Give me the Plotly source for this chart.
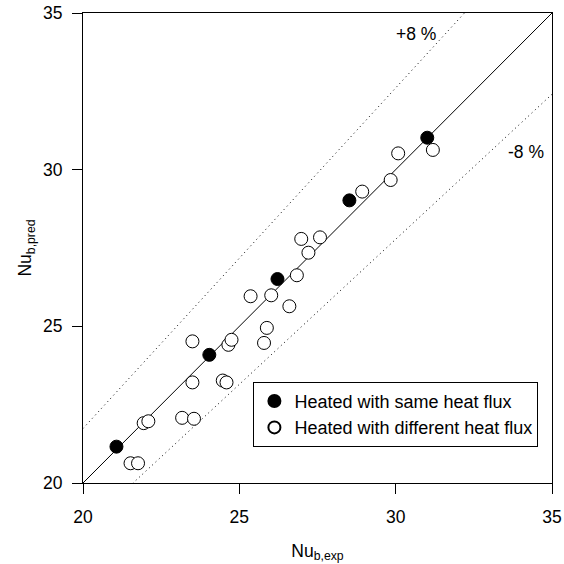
import plotly.graph_objects as go

# Heated with the same heat flux (filled markers)
nu_exp_same = [21.07, 24.04, 26.22, 28.52, 31.01]
nu_pred_same = [21.16, 24.09, 26.51, 29.02, 31.02]

# Heated with different heat flux (open markers)
nu_exp_diff = [21.52, 21.76, 21.94, 22.09, 23.17, 23.55, 23.50, 23.50, 24.47, 24.59,
               24.65, 24.75, 25.36, 25.79, 25.88, 26.02, 26.60, 26.84, 26.98, 27.21,
               27.58, 28.93, 29.84, 30.08, 31.19]
nu_pred_diff = [20.63, 20.63, 21.91, 21.97, 22.08, 22.05, 23.21, 24.52, 23.27, 23.21,
                24.41, 24.57, 25.96, 24.47, 24.95, 25.99, 25.64, 26.63, 27.79, 27.35,
                27.84, 29.30, 29.67, 30.52, 30.63]

axis_range = [20, 35]
tick_vals = [20, 25, 30, 35]
upper_factor = 1 / 0.92   # +8 % bound
lower_factor = 1 / 1.08   # -8 % bound

FONT = "Liberation Sans, Arial, sans-serif"

fig = go.Figure()

# Perfect agreement line and +/-8 % bounds
fig.add_trace(go.Scatter(x=axis_range, y=axis_range, mode="lines",
                         line=dict(color="black", width=1), showlegend=False,
                         hoverinfo="skip"))
fig.add_trace(go.Scatter(x=axis_range, y=[v * upper_factor for v in axis_range],
                         mode="lines", line=dict(color="black", width=1, dash="1px,3.5px"),
                         showlegend=False, hoverinfo="skip"))
fig.add_trace(go.Scatter(x=axis_range, y=[v * lower_factor for v in axis_range],
                         mode="lines", line=dict(color="black", width=1, dash="1px,3.5px"),
                         showlegend=False, hoverinfo="skip"))

fig.add_trace(go.Scatter(x=nu_exp_same, y=nu_pred_same, mode="markers",
                         name="Heated with same heat flux",
                         marker=dict(size=13, color="black",
                                     line=dict(color="black", width=1))))
fig.add_trace(go.Scatter(x=nu_exp_diff, y=nu_pred_diff, mode="markers",
                         name="Heated with different heat flux",
                         marker=dict(size=13, color="white",
                                     line=dict(color="black", width=1))))

fig.add_annotation(x=30.65, y=34.33, text="+8 %", showarrow=False,
                   font=dict(family=FONT, size=17.5, color="black"))
fig.add_annotation(x=34.18, y=30.55, text="-8 %", showarrow=False,
                   font=dict(family=FONT, size=17.5, color="black"))

axis_common = dict(
    range=axis_range, tickvals=tick_vals, ticks="outside", ticklen=10,
    tickwidth=1, tickcolor="black", showline=True, linecolor="black",
    linewidth=1, mirror=True, showgrid=False, zeroline=False,
    automargin=False,
    tickfont=dict(family=FONT, size=17.5, color="black"),
)

fig.update_xaxes(**axis_common, ticklabelstandoff=8,
                 title=dict(text="Nu<sub>b,exp</sub>", standoff=18,
                            font=dict(family=FONT, size=17.5, color="black")))
fig.update_yaxes(**axis_common, ticklabelstandoff=6,
                 title=dict(text="Nu<sub>b,pred</sub>", standoff=6,
                            font=dict(family=FONT, size=17.5, color="black")))

fig.update_layout(
    width=564, height=564,
    margin=dict(l=83, r=12, t=13, b=81, autoexpand=False),
    paper_bgcolor="white", plot_bgcolor="white",
    font=dict(family=FONT, color="black"),
    legend=dict(x=0.971, y=0.077, xanchor="right", yanchor="bottom",
                bordercolor="black", borderwidth=1, bgcolor="white",
                itemsizing="constant", tracegroupgap=0,
                font=dict(family=FONT, size=18, color="black")),
)

fig.write_html("out.html")
